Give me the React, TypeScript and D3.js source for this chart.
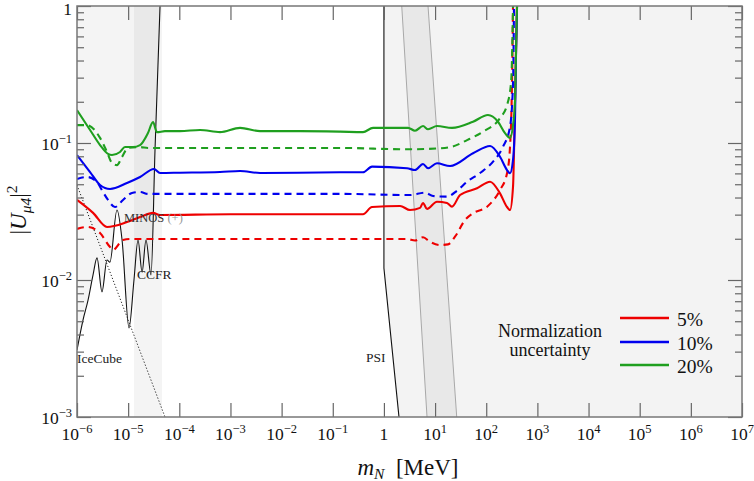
import React, { useEffect, useRef } from 'react';
import * as d3 from 'd3';

type Pt = [number, number];

const WIDTH = 754;
const HEIGHT = 481;
const margin = { top: 6, right: 12, bottom: 64, left: 77 };

const xDomain: [number, number] = [1e-6, 1e7];
const yDomain: [number, number] = [1e-3, 1];
const xTickExps = [-6, -5, -4, -3, -2, -1, 0, 1, 2, 3, 4, 5, 6, 7];
const yTickExps = [-3, -2, -1, 0];

// sensitivity curves, 5% / 10% / 20% normalization uncertainty
const redSolid: Pt[] = [
  [1e-6, 0.0384], [2.06e-6, 0.0309], [3.86e-6, 0.0244], [9.5e-6, 0.0265], [1.71e-5, 0.0288],
  [3.06e-5, 0.0309], [4.2e-5, 0.0298], [1e-3, 0.0302], [0.139, 0.0302], [0.39, 0.0302],
  [0.585, 0.0341], [2.07, 0.0347], [3.24, 0.0324], [5.08, 0.0336], [5.81, 0.0365], [6.96, 0.033],
  [10.9, 0.0373], [17.1, 0.0365], [21.4, 0.0343], [30.8, 0.0417], [66.1, 0.0467], [119, 0.0522],
  [186, 0.0429], [255, 0.0341], [292, 0.0324], [334, 0.048], [366, 0.206], [383, 0.477], [400, 1],
];
const redDashed: Pt[] = [
  [1e-6, 0.0236], [1.57e-6, 0.0244], [2.82e-6, 0.022], [4.42e-6, 0.0174], [5.06e-6, 0.0166],
  [7.93e-6, 0.0196], [1.09e-5, 0.0199], [0.139, 0.0199], [2.83, 0.0199], [4.05, 0.0194],
  [5.81, 0.0205], [7.96, 0.019], [12.5, 0.018], [17.9, 0.0182], [24.5, 0.0207], [38.5, 0.0274],
  [55.2, 0.0307], [104, 0.0343], [186, 0.0454], [255, 0.0601], [292, 0.094], [319, 0.274], [334, 1],
];
const blueSolid: Pt[] = [
  [1e-6, 0.0817], [1.8e-6, 0.0614], [2.82e-6, 0.0494], [4.42e-6, 0.0462], [9.5e-6, 0.0511],
  [1.71e-5, 0.0565], [3.2e-5, 0.0646], [4.2e-5, 0.0604], [1.03e-4, 0.0607], [6.25e-4, 0.0614],
  [1.54e-3, 0.0625], [3.78e-3, 0.0604], [0.139, 0.0611], [0.39, 0.0611], [0.585, 0.0672],
  [2.83, 0.0654], [4.05, 0.0635], [5.81, 0.0703], [7.28, 0.0654], [10.9, 0.0711], [19.6, 0.0679],
  [55.2, 0.0841], [119, 0.0951], [186, 0.0794], [255, 0.0635], [292, 0.0601], [334, 0.0752],
  [366, 0.155], [383, 0.477], [400, 1],
];
const blueDashed: Pt[] = [
  [1e-6, 0.0546], [1.57e-6, 0.0565], [2.46e-6, 0.0519], [3.22e-6, 0.0439], [4.04e-6, 0.0384],
  [5.53e-6, 0.0341], [7.93e-6, 0.0384], [1.19e-5, 0.0432], [1.71e-5, 0.0439], [2.44e-5, 0.0425],
  [0.139, 0.0425], [3.24, 0.0417], [6.36, 0.0434], [9.12, 0.041], [17.1, 0.0406], [26.9, 0.0449],
  [42.2, 0.0522], [75.7, 0.0604], [136, 0.0731], [213, 0.094], [292, 0.1315], [334, 0.274], [349, 1],
];
const greenSolid: Pt[] = [
  [1e-6, 0.174], [1.8e-6, 0.1245], [2.82e-6, 0.0966], [4.04e-6, 0.0832], [4.83e-6, 0.0817],
  [6.93e-6, 0.086], [8.68e-6, 0.0934], [1.24e-5, 0.0934], [1.71e-5, 0.0966], [2.44e-5, 0.1183],
  [3.06e-5, 0.142], [3.66e-5, 0.12], [5.25e-5, 0.122], [1.03e-4, 0.122], [2.54e-4, 0.1245],
  [6.25e-4, 0.12], [1.54e-3, 0.129], [3.78e-3, 0.122], [0.0229, 0.122], [0.139, 0.121],
  [0.39, 0.12], [0.612, 0.129], [2.96, 0.129], [4.05, 0.123], [5.81, 0.133], [7.28, 0.126],
  [10.9, 0.133], [21.4, 0.129], [55.2, 0.143], [108, 0.16], [170, 0.143], [233, 0.118],
  [292, 0.109], [334, 0.135], [366, 0.206], [383, 0.477], [400, 1],
];
const greenDashed: Pt[] = [
  [1e-6, 0.135], [1.57e-6, 0.135], [2.82e-6, 0.109], [3.86e-6, 0.086], [4.83e-6, 0.0715],
  [6.05e-6, 0.069], [7.58e-6, 0.0791], [9.93e-6, 0.092], [1.71e-5, 0.0934], [2.44e-5, 0.092],
  [0.139, 0.092], [2.83, 0.09], [12.5, 0.0915], [21.4, 0.094], [42.2, 0.105], [86.5, 0.121],
  [186, 0.152], [255, 0.189], [305, 0.274], [319, 0.404], [334, 1],
];

// existing bounds
const lowMassBound: Pt[] = [
  [1e-6, 3.08e-3], [1.31e-6, 5.1e-3], [1.64e-6, 7.1e-3], [2.06e-6, 1.09e-2], [2.46e-6, 1.45e-2],
  [3.08e-6, 8.2e-3], [3.86e-6, 1.4e-2], [4.4e-6, 1.35e-2], [6.05e-6, 3.24e-2], [7.6e-6, 1.96e-2],
  [1.04e-5, 4.47e-3], [1.3e-5, 1e-2], [1.56e-5, 1.96e-2], [1.87e-5, 1.14e-2], [2.23e-5, 1.96e-2],
  [2.8e-5, 1.09e-2], [3.35e-5, 8.9e-2], [4.2e-5, 1],
];
const psiBound: Pt[] = [[1, 1], [1, 1.22e-2], [1.97, 1e-3]];
const ccfrBand: [number, number] = [1.3e-5, 4.6e-5];
const diagLeft: Pt[] = [[2.23, 1], [6.96, 1e-3]];
const diagRight: Pt[] = [[7.28, 1], [26.5, 1e-3]];
const dottedLine: Pt[] = [[1e-6, 4.93e-2], [5.25e-5, 1e-3]];

const legendLabels = ['5%', '10%', '20%'];
const legendColors = ['#ee0000', '#0000ee', '#1f9f1f'];

const FONT = "'Liberation Serif', 'Times New Roman', 'DejaVu Serif', serif";

const App: React.FC = () => {
  const ref = useRef<SVGSVGElement>(null);

  useEffect(() => {
    if (!ref.current) return;
    const svg = d3.select(ref.current);
    svg.selectAll('*').remove();

    const x0 = margin.left;
    const x1 = WIDTH - margin.right;
    const y0 = HEIGHT - margin.bottom;
    const y1 = margin.top;

    const x = d3.scaleLog().domain(xDomain).range([x0, x1]);
    const y = d3.scaleLog().domain(yDomain).range([y0, y1]);

    svg.append('defs').append('clipPath').attr('id', 'plot-clip')
      .append('rect').attr('x', x0).attr('y', y1).attr('width', x1 - x0).attr('height', y0 - y1);

    const plot = svg.append('g').attr('clip-path', 'url(#plot-clip)');
    const line = d3.line<Pt>().x((d) => x(d[0])).y((d) => y(d[1]));
    const smooth = d3.line<Pt>().x((d) => x(d[0])).y((d) => y(d[1])).curve(d3.curveMonotoneX);

    // shaded exclusion regions
    const above = d3.area<Pt>().x((d) => x(d[0])).y0(y1).y1((d) => y(d[1])).curve(d3.curveMonotoneX);
    plot.append('path').datum(lowMassBound).attr('d', above).attr('fill', '#f4f4f4');

    const psiRegion: Pt[] = [...psiBound, [xDomain[1], yDomain[0]], [xDomain[1], yDomain[1]]];
    plot.append('path').attr('d', line(psiRegion) + 'Z').attr('fill', '#f3f3f3');

    plot.append('rect')
      .attr('x', x(ccfrBand[0])).attr('y', y1)
      .attr('width', x(ccfrBand[1]) - x(ccfrBand[0])).attr('height', y0 - y1)
      .attr('fill', 'rgba(0,0,0,0.045)');

    const diagRegion: Pt[] = [...diagLeft, ...[...diagRight].reverse()];
    plot.append('path').attr('d', line(diagRegion) + 'Z').attr('fill', 'rgba(0,0,0,0.045)');
    [diagLeft, diagRight].forEach((l) => {
      plot.append('path').attr('d', line(l)).attr('fill', 'none').attr('stroke', '#a8a8a8').attr('stroke-width', 1);
    });

    // bound lines
    plot.append('path').datum(lowMassBound).attr('d', smooth)
      .attr('fill', 'none').attr('stroke', '#111').attr('stroke-width', 1.1);
    plot.append('path').datum(psiBound).attr('d', line)
      .attr('fill', 'none').attr('stroke', '#111').attr('stroke-width', 1.1);
    plot.append('path').datum(dottedLine).attr('d', line)
      .attr('fill', 'none').attr('stroke', '#222').attr('stroke-width', 1)
      .attr('stroke-dasharray', '1.2 2');

    // sensitivity curves
    const curves: { data: Pt[]; color: string; dashed: boolean }[] = [
      { data: redDashed, color: legendColors[0], dashed: true },
      { data: blueDashed, color: legendColors[1], dashed: true },
      { data: greenDashed, color: legendColors[2], dashed: true },
      { data: redSolid, color: legendColors[0], dashed: false },
      { data: blueSolid, color: legendColors[1], dashed: false },
      { data: greenSolid, color: legendColors[2], dashed: false },
    ];
    curves.forEach((c) => {
      plot.append('path').datum(c.data).attr('d', smooth)
        .attr('fill', 'none').attr('stroke', c.color).attr('stroke-width', 2.1)
        .attr('stroke-dasharray', c.dashed ? '7 5' : null);
    });

    // annotations
    const label = (tx: number, ty: number, text: string, size: number, fill = '#222') =>
      svg.append('text').attr('x', tx).attr('y', ty).style('font-family', FONT)
        .attr('font-size', size).attr('fill', fill).text(text);
    label(77, 363, 'IceCube', 13.5);
    label(137, 279, 'CCFR', 13.5);
    label(366, 362, 'PSI', 13.5);
    const minos = label(124, 222, 'MINOS ', 12.5, '#333');
    minos.append('tspan').attr('fill', '#999').text('(+)');

    const note = svg.append('text').style('font-family', FONT).attr('font-size', 18)
      .attr('fill', '#111').attr('text-anchor', 'middle');
    note.append('tspan').attr('x', 550).attr('y', 337).text('Normalization');
    note.append('tspan').attr('x', 550).attr('y', 356).text('uncertainty');

    // legend
    const legendY = [318, 342, 365];
    legendLabels.forEach((l, i) => {
      svg.append('line').attr('x1', 620).attr('x2', 669).attr('y1', legendY[i]).attr('y2', legendY[i])
        .attr('stroke', legendColors[i]).attr('stroke-width', 2.4);
      label(677, legendY[i] + 8, l, 19.5, '#111');
    });

    // frame and ticks
    const tickStyle = (g: d3.Selection<SVGGElement, unknown, null, undefined>) => {
      g.select('.domain').remove();
      g.selectAll('.tick line').attr('stroke', '#666').attr('stroke-width', 1.2);
      g.selectAll('.tick text').remove();
    };
    const xTicks = xTickExps.map((e) => Math.pow(10, e));
    const yTicks = yTickExps.map((e) => Math.pow(10, e));
    const yMinor: number[] = [];
    yTickExps.slice(0, -1).forEach((e) => {
      for (let m = 2; m <= 9; m++) yMinor.push(m * Math.pow(10, e));
    });

    svg.append('g').attr('transform', `translate(0,${y0})`)
      .call(d3.axisBottom(x).tickValues(xTicks).tickSize(-14).tickFormat(() => ''))
      .call(tickStyle);
    svg.append('g').attr('transform', `translate(0,${y1})`)
      .call(d3.axisTop(x).tickValues(xTicks).tickSize(-14).tickFormat(() => ''))
      .call(tickStyle);
    svg.append('g').attr('transform', `translate(${x0},0)`)
      .call(d3.axisLeft(y).tickValues(yTicks).tickSize(-14).tickFormat(() => ''))
      .call(tickStyle);
    svg.append('g').attr('transform', `translate(${x0},0)`)
      .call(d3.axisLeft(y).tickValues(yMinor).tickSize(-7).tickFormat(() => ''))
      .call(tickStyle);
    svg.append('g').attr('transform', `translate(${x1},0)`)
      .call(d3.axisRight(y).tickValues(yTicks).tickSize(-14).tickFormat(() => ''))
      .call(tickStyle);
    svg.append('g').attr('transform', `translate(${x1},0)`)
      .call(d3.axisRight(y).tickValues(yMinor).tickSize(-7).tickFormat(() => ''))
      .call(tickStyle);

    svg.append('rect').attr('x', x0).attr('y', y1).attr('width', x1 - x0).attr('height', y0 - y1)
      .attr('fill', 'none').attr('stroke', '#777').attr('stroke-width', 1.5);

    // tick labels with superscripts
    const powerLabel = (t: d3.Selection<SVGTextElement, unknown, null, undefined>, e: number) => {
      if (e === 0) {
        t.text('1');
        return;
      }
      t.append('tspan').text('10');
      t.append('tspan').attr('font-size', 12.5).attr('dy', -7).text(e === 1 ? '1' : `${e < 0 ? '\u2212' : ''}${Math.abs(e)}`);
    };
    xTickExps.forEach((e) => {
      const t = svg.append('text').attr('x', x(Math.pow(10, e))).attr('y', 440)
        .attr('text-anchor', 'middle').style('font-family', FONT).attr('font-size', 17.5).attr('fill', '#111');
      powerLabel(t as any, e);
    });
    yTickExps.forEach((e) => {
      const t = svg.append('text').attr('x', x0 - 5).attr('y', y(Math.pow(10, e)) + (e === 0 ? 9 : 7))
        .attr('text-anchor', 'end').style('font-family', FONT).attr('font-size', 17.5).attr('fill', '#111');
      powerLabel(t as any, e);
    });

    // axis titles
    const xt = svg.append('text').attr('x', 408).attr('y', 475).attr('text-anchor', 'middle')
      .style('font-family', FONT).attr('font-size', 23).attr('fill', '#111');
    xt.append('tspan').attr('font-style', 'italic').text('m');
    xt.append('tspan').attr('font-style', 'italic').attr('font-size', 15.5).attr('dy', 4).text('N');
    xt.append('tspan').attr('dy', -4).text('\u2002[MeV]');

    const yt = svg.append('text').attr('transform', 'translate(26,210) rotate(-90)').attr('text-anchor', 'middle')
      .style('font-family', FONT).attr('font-size', 23).attr('fill', '#111');
    yt.append('tspan').text('|');
    yt.append('tspan').attr('font-style', 'italic').text('U');
    yt.append('tspan').attr('font-style', 'italic').attr('font-size', 15.5).attr('dy', 5).text('\u03bc4');
    yt.append('tspan').attr('dy', -5).text('|');
    yt.append('tspan').attr('font-size', 15.5).attr('dy', -9).text('2');
  }, []);

  return (
    <svg ref={ref} width={WIDTH} height={HEIGHT}
      style={{ position: 'absolute', left: 0, top: 0, background: '#fff' }} />
  );
};

export default App;
